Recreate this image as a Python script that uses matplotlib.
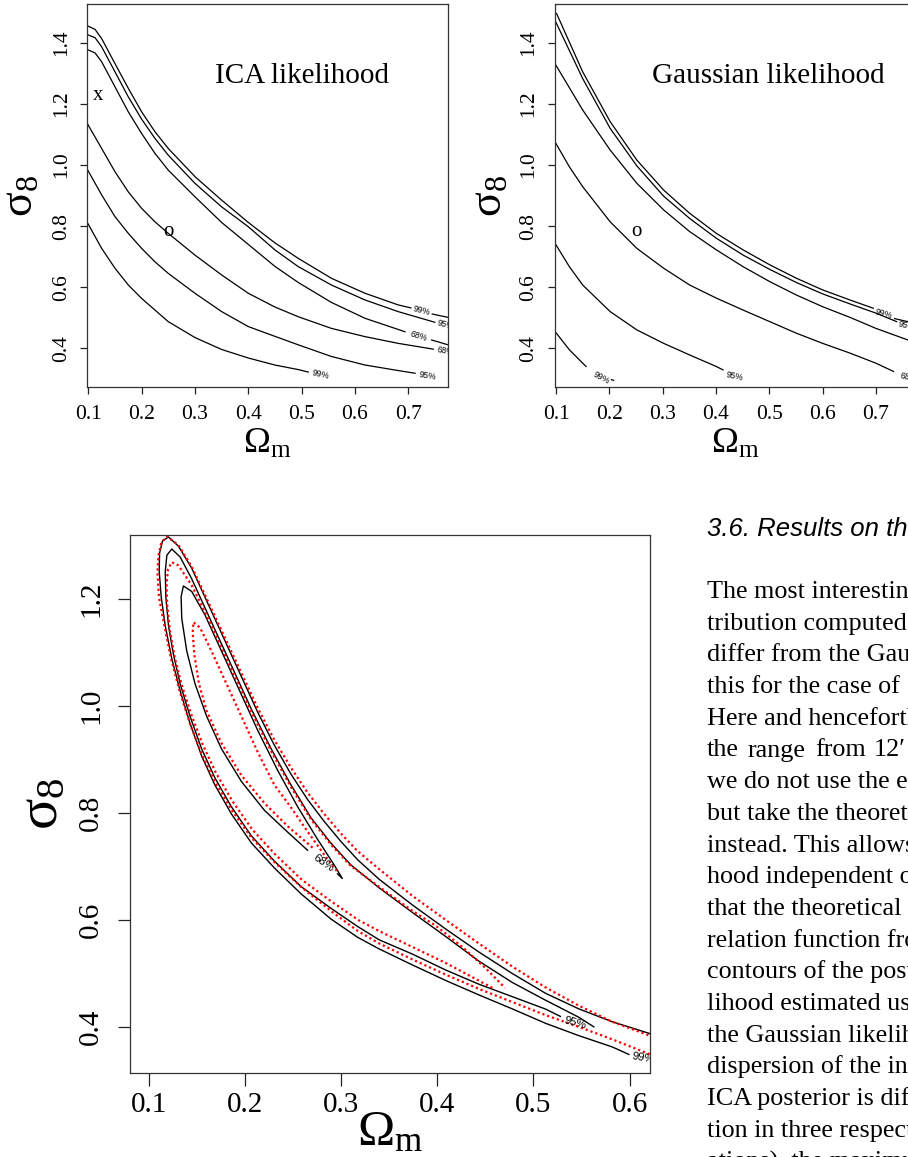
import numpy as np
import matplotlib.pyplot as plt

plt.rcParams['mathtext.fontset'] = 'custom'
plt.rcParams['mathtext.rm'] = 'Liberation Serif'
plt.rcParams['mathtext.it'] = 'Liberation Serif:italic'

SERIF = 'Liberation Serif'
SANS = 'Liberation Sans'
nan = np.nan

# ---------------- top left: ICA likelihood contours ----------------
ica_99_up_x = [0.098, 0.1126, 0.125, 0.150, 0.175, 0.200, 0.225, 0.250, 0.300, 0.350, 0.400, 0.450, 0.494, 0.556, 0.619, 0.681, 0.705, nan, 0.745, 0.775]
ica_99_up_y = [1.456, 1.444, 1.414, 1.332, 1.251, 1.174, 1.109, 1.054, 0.962, 0.885, 0.812, 0.745, 0.694, 0.629, 0.580, 0.542, 0.532, nan, 0.512, 0.501]
ica_95_up_x = [0.098, 0.1126, 0.125, 0.150, 0.175, 0.200, 0.225, 0.250, 0.300, 0.350, 0.400, 0.450, 0.494, 0.556, 0.619, 0.681, 0.750]
ica_95_up_y = [1.427, 1.417, 1.387, 1.305, 1.223, 1.150, 1.087, 1.032, 0.940, 0.863, 0.798, 0.722, 0.667, 0.607, 0.558, 0.520, 0.485]
ica_68_up_x = [0.098, 0.1126, 0.125, 0.150, 0.175, 0.200, 0.225, 0.250, 0.300, 0.350, 0.400, 0.450, 0.494, 0.556, 0.619, 0.694, nan, 0.744, 0.775]
ica_68_up_y = [1.378, 1.367, 1.338, 1.256, 1.174, 1.103, 1.038, 0.983, 0.896, 0.812, 0.740, 0.668, 0.615, 0.550, 0.498, 0.454, nan, 0.427, 0.411]
ica_68_lo_x = [0.098, 0.125, 0.150, 0.175, 0.200, 0.225, 0.250, 0.300, 0.350, 0.400, 0.450, 0.494, 0.556, 0.619, 0.681, 0.747]
ica_68_lo_y = [1.136, 1.054, 0.978, 0.912, 0.858, 0.814, 0.776, 0.705, 0.640, 0.580, 0.535, 0.503, 0.465, 0.438, 0.416, 0.397]
ica_95_lo_x = [0.098, 0.125, 0.150, 0.175, 0.200, 0.225, 0.250, 0.300, 0.350, 0.400, 0.431, 0.494, 0.556, 0.619, 0.681, 0.713]
ica_95_lo_y = [0.986, 0.902, 0.831, 0.776, 0.727, 0.683, 0.645, 0.580, 0.520, 0.471, 0.451, 0.411, 0.373, 0.345, 0.327, 0.318]
ica_99_lo_x = [0.098, 0.125, 0.150, 0.175, 0.200, 0.225, 0.250, 0.300, 0.350, 0.400, 0.450, 0.494, 0.5125]
ica_99_lo_y = [0.812, 0.727, 0.662, 0.607, 0.563, 0.525, 0.487, 0.435, 0.396, 0.368, 0.345, 0.330, 0.322]

ica_lab_text = ['99%', '95%', '68%', '68%', '95%', '99%']
ica_lab_x = [0.725, 0.770, 0.719, 0.770, 0.737, 0.535]
ica_lab_y = [0.522, 0.476, 0.441, 0.390, 0.309, 0.314]
ica_lab_rot = [-14, -15, -17, -10, -9, -13]

# ---------------- top right: Gaussian likelihood contours ----------------
gau_99_up_x = [0.101, 0.150, 0.2015, 0.2516, 0.3018, 0.3506, 0.4008, 0.4509, 0.501, 0.5511, 0.600, 0.6514, 0.695, nan, 0.735, 0.760, 0.775]
gau_99_up_y = [1.496, 1.305, 1.142, 1.016, 0.918, 0.842, 0.776, 0.722, 0.673, 0.629, 0.591, 0.558, 0.531, nan, 0.497, 0.487, 0.482]
gau_95_up_x = [0.098, 0.150, 0.2015, 0.2516, 0.3018, 0.3506, 0.4008, 0.4509, 0.501, 0.5511, 0.600, 0.6514, 0.700, 0.739]
gau_95_up_y = [1.474, 1.283, 1.120, 0.997, 0.898, 0.825, 0.760, 0.705, 0.658, 0.615, 0.578, 0.545, 0.515, 0.487]
gau_68_up_x = [0.098, 0.150, 0.2015, 0.2516, 0.3018, 0.3506, 0.4008, 0.4509, 0.501, 0.5511, 0.600, 0.6514, 0.700, 0.760, 0.775]
gau_68_up_y = [1.332, 1.180, 1.049, 0.940, 0.853, 0.782, 0.722, 0.667, 0.618, 0.574, 0.536, 0.501, 0.465, 0.427, 0.419]
gau_68_lo_x = [0.098, 0.125, 0.150, 0.2015, 0.2516, 0.3018, 0.3506, 0.4008, 0.4509, 0.501, 0.5511, 0.600, 0.6514, 0.700, 0.733]
gau_68_lo_y = [1.076, 0.994, 0.929, 0.814, 0.727, 0.662, 0.607, 0.564, 0.525, 0.487, 0.449, 0.416, 0.384, 0.351, 0.324]
gau_95_lo_x = [0.098, 0.125, 0.150, 0.2015, 0.2516, 0.3018, 0.3506, 0.4008, 0.4133]
gau_95_lo_y = [0.744, 0.667, 0.607, 0.520, 0.460, 0.416, 0.378, 0.340, 0.329]
gau_99_lo_x = [0.098, 0.125, 0.1564, nan, 0.204, 0.208]
gau_99_lo_y = [0.455, 0.395, 0.340, nan, 0.297, 0.295]

gau_lab_text = ['99%', '95%', '68%', '95%', '99%']
gau_lab_x = [0.714, 0.758, 0.762, 0.435, 0.185]
gau_lab_y = [0.514, 0.474, 0.303, 0.309, 0.302]
gau_lab_rot = [-15, -15, -12, -12, -28]

# ---------------- bottom: ICA (black) vs Gaussian (red) posterior ----------------
post_ica_99_x = [0.5993, 0.582, 0.5473, 0.5127, 0.478, 0.4433, 0.4087, 0.374, 0.3393, 0.3166, 0.2890, 0.2579, 0.2303, 0.2062, 0.1855, 0.1683, 0.1545, 0.1424, 0.1321, 0.1234, 0.1166, 0.1124, 0.1103, 0.1107, 0.1138, 0.120,
                 0.1303, 0.1441, 0.1579, 0.1717, 0.1855, 0.1993, 0.2131, 0.2303, 0.2476, 0.2648, 0.2821, 0.2993, 0.3166, 0.3393, 0.374, 0.4087, 0.4433, 0.478, 0.5127, 0.5473, 0.582, 0.621]
post_ica_99_y = [0.349, 0.363, 0.384, 0.407, 0.434, 0.460, 0.487, 0.516, 0.546, 0.568, 0.602, 0.649, 0.697, 0.744, 0.798, 0.852, 0.906, 0.967, 1.028, 1.088, 1.149, 1.203, 1.251, 1.285, 1.308, 1.315,
                 1.298, 1.257, 1.203, 1.149, 1.095, 1.041, 0.987, 0.926, 0.872, 0.825, 0.784, 0.747, 0.713, 0.676, 0.628, 0.583, 0.540, 0.500, 0.463, 0.434, 0.410, 0.388]
post_ica_95_x = [0.528, 0.5127, 0.478, 0.4433, 0.4087, 0.374, 0.3393, 0.3166, 0.289, 0.2579, 0.2303, 0.2062, 0.1855, 0.1683, 0.1545, 0.1424, 0.1321, 0.1252, 0.120, 0.1172, 0.1166, 0.1183, 0.1234,
                 0.1321, 0.1441, 0.1579, 0.1717, 0.189, 0.2062, 0.2269, 0.2476, 0.2683, 0.289, 0.3097, 0.3393, 0.374, 0.4087, 0.4433, 0.478, 0.5127, 0.5473, 0.5629]
post_ica_95_y = [0.420, 0.4336, 0.4568, 0.480, 0.5065, 0.5363, 0.563, 0.5882, 0.622, 0.6626, 0.7099, 0.7572, 0.8113, 0.8654, 0.9195, 0.9803, 1.0411, 1.0952, 1.1493, 1.2034, 1.2507, 1.2811, 1.2926,
                 1.2777, 1.2372, 1.1831, 1.129, 1.0614, 0.9938, 0.9195, 0.8519, 0.791, 0.7437, 0.7031, 0.660, 0.614, 0.569, 0.523, 0.4833, 0.4501, 0.4183, 0.4004]
post_ica_68_x = [0.2648, 0.2441, 0.220, 0.1959, 0.1752, 0.1597, 0.1476, 0.139, 0.1338, 0.1331, 0.1355,
                 0.1441, 0.1579, 0.1752, 0.1924, 0.2131, 0.2338, 0.2545, 0.2752, 0.2924, 0.301, 0.2959]
post_ica_68_y = [0.7302, 0.764, 0.8045, 0.8586, 0.9195, 0.9803, 1.0411, 1.102, 1.1628, 1.2034, 1.2237,
                 1.2135, 1.1696, 1.102, 1.0344, 0.9533, 0.8789, 0.8113, 0.7505, 0.7031, 0.6774, 0.6862]

post_gau_99_x = [0.621, 0.582, 0.5473, 0.5127, 0.478, 0.4433, 0.4087, 0.374, 0.3393, 0.3166, 0.289, 0.2579, 0.2303, 0.2062, 0.1855, 0.1683, 0.1545, 0.142, 0.1315, 0.1226, 0.1158, 0.110, 0.1085, 0.1095, 0.1125, 0.1185,
                 0.1303, 0.1441, 0.1579, 0.1717, 0.1855, 0.1993, 0.2131, 0.2303, 0.2476, 0.2648, 0.2821, 0.2993, 0.3166, 0.3393, 0.374, 0.4087, 0.4433, 0.478, 0.5127, 0.5473, 0.582, 0.621]
post_gau_99_y = [0.3494, 0.3772, 0.4004, 0.4223, 0.4468, 0.4713, 0.4979, 0.5263, 0.5562, 0.580, 0.617, 0.662, 0.708, 0.754, 0.806, 0.858, 0.910, 0.968, 1.028, 1.088, 1.149, 1.203, 1.250, 1.280, 1.305, 1.316,
                 1.300, 1.260, 1.207, 1.154, 1.101, 1.048, 0.995, 0.936, 0.884, 0.838, 0.798, 0.762, 0.729, 0.695, 0.645, 0.600, 0.556, 0.513, 0.474, 0.440, 0.410, 0.384]
post_gau_95_x = [0.4572, 0.4364, 0.4087, 0.374, 0.3393, 0.3176, 0.290, 0.2589, 0.2313, 0.2072, 0.1865, 0.1693, 0.1555, 0.1435, 0.1335, 0.1265, 0.1215, 0.1185, 0.118, 0.1195, 0.1234,
                 0.1303, 0.1441, 0.1579, 0.1717, 0.189, 0.2062, 0.2269, 0.2476, 0.2683, 0.289, 0.3097, 0.3393, 0.374, 0.3983, 0.426, 0.4503, 0.4704]
post_gau_95_y = [0.4733, 0.4932, 0.5197, 0.5495, 0.5794, 0.600, 0.634, 0.675, 0.722, 0.769, 0.822, 0.875, 0.928, 0.985, 1.040, 1.090, 1.140, 1.190, 1.228, 1.255, 1.268,
                 1.262, 1.225, 1.175, 1.122, 1.055, 0.989, 0.915, 0.848, 0.788, 0.741, 0.701, 0.662, 0.617, 0.5893, 0.5495, 0.5098, 0.4733]
post_gau_68_x = [0.270, 0.2441, 0.220, 0.1959, 0.1752, 0.1597, 0.1517, 0.1469, 0.1452, 0.1459,
                 0.1528, 0.1648, 0.1786, 0.1959, 0.2131, 0.2303, 0.2476, 0.2648, 0.2821, 0.2959]
post_gau_68_y = [0.735, 0.775, 0.818, 0.870, 0.930, 0.990, 1.0411, 1.0952, 1.1358, 1.156,
                 1.1459, 1.102, 1.0479, 0.9803, 0.9127, 0.8519, 0.810, 0.765, 0.722, 0.690]

post_lab_text = ['68%', '95%', '99%']
post_lab_x = [0.281, 0.544, 0.614]
post_lab_y = [0.707, 0.407, 0.343]
post_lab_rot = [-35, -15, -10]

top_xticks = [0.1, 0.2, 0.3, 0.4, 0.5, 0.6, 0.7]
top_yticks = [0.4, 0.6, 0.8, 1.0, 1.2, 1.4]
bot_xticks = [0.1, 0.2, 0.3, 0.4, 0.5, 0.6]
bot_yticks = [0.4, 0.6, 0.8, 1.0, 1.2]

body_lines = [
    'The most interesting',
    'tribution computed',
    'differ from the Gaussian',
    'this for the case of',
    'Here and henceforth',
    None,
    'we do not use the estimated',
    'but take the theoretical',
    'instead. This allows',
    'hood independent of',
    'that the theoretical',
    'relation function from',
    'contours of the posterior',
    'lihood estimated using',
    'the Gaussian likelihood',
    'dispersion of the individual',
    'ICA posterior is different',
    'tion in three respects',
    'ations), the maximum',
]
# the sixth line is set with stretched word spacing
wide_words = ['the', 'range', 'from', '12\u2032', 'to']
wide_word_px = [707, 748, 815, 874, 915]


def setup(ax, xlim, ylim, xticks, yticks, fs, tick_len, xpad, ypad):
    ax.set_xlim(xlim)
    ax.set_ylim(ylim)
    ax.set_xticks(xticks)
    ax.set_yticks(yticks)
    ax.set_xticklabels([f'{v:.1f}' for v in xticks], fontfamily=SERIF, fontsize=fs)
    ax.set_yticklabels([f'{v:.1f}' for v in yticks], fontfamily=SERIF, fontsize=fs,
                       rotation=90, va='center')
    ax.tick_params(axis='x', length=tick_len, width=0.9, pad=xpad, color='#222222')
    ax.tick_params(axis='y', length=tick_len, width=0.9, pad=ypad, color='#222222')
    for sp in ax.spines.values():
        sp.set_linewidth(0.9)
        sp.set_color('#333333')


def contour_labels(ax, texts, xs, ys, rots, fs):
    for t, x, y, r in zip(texts, xs, ys, rots):
        ax.text(x, y, t, rotation=r, rotation_mode='anchor', ha='center', va='center',
                fontsize=fs, family=SANS, clip_on=True)


fig = plt.figure(figsize=(9.08, 11.57), dpi=100)
fig.patch.set_facecolor('white')

# top left
ax1 = fig.add_axes([0.0961, 0.6655, 0.3972, 0.3310])
for xs, ys in [(ica_99_up_x, ica_99_up_y), (ica_95_up_x, ica_95_up_y), (ica_68_up_x, ica_68_up_y),
               (ica_68_lo_x, ica_68_lo_y), (ica_95_lo_x, ica_95_lo_y), (ica_99_lo_x, ica_99_lo_y)]:
    ax1.plot(xs, ys, color='black', lw=0.9)
contour_labels(ax1, ica_lab_text, ica_lab_x, ica_lab_y, ica_lab_rot, 6.3)
ax1.text(0.500, 1.267, 'ICA likelihood', ha='center', va='baseline', family=SERIF, fontsize=21)
ax1.text(0.1176, 1.227, 'x', ha='center', va='center', family=SERIF, fontsize=15)
ax1.text(0.250, 0.782, 'o', ha='center', va='center', family=SERIF, fontsize=15)
setup(ax1, (0.098, 0.7745), (0.273, 1.527), top_xticks, top_yticks, 15.5, 4.8, 8, 7)
ax1.text(0.5, -0.172, r'$\mathrm{\Omega_m}$', transform=ax1.transAxes, ha='center', va='baseline', fontsize=26)
ax1.text(-0.150, 0.5, r'$\mathrm{\sigma_8}$', transform=ax1.transAxes, rotation=90, rotation_mode='anchor',
         ha='center', va='baseline', fontsize=33)

# top right (runs past the page edge)
ax2 = fig.add_axes([0.6112, 0.6655, 0.3972, 0.3310])
for xs, ys in [(gau_99_up_x, gau_99_up_y), (gau_95_up_x, gau_95_up_y), (gau_68_up_x, gau_68_up_y),
               (gau_68_lo_x, gau_68_lo_y), (gau_95_lo_x, gau_95_lo_y), (gau_99_lo_x, gau_99_lo_y)]:
    ax2.plot(xs, ys, color='black', lw=0.9)
contour_labels(ax2, gau_lab_text, gau_lab_x, gau_lab_y, gau_lab_rot, 6.3)
ax2.text(0.498, 1.269, 'Gaussian likelihood', ha='center', va='baseline', family=SERIF, fontsize=21)
ax2.text(0.2516, 0.782, 'o', ha='center', va='center', family=SERIF, fontsize=15)
setup(ax2, (0.098, 0.7745), (0.273, 1.527), top_xticks, top_yticks, 15.5, 4.8, 8, 7)
ax2.text(0.5, -0.172, r'$\mathrm{\Omega_m}$', transform=ax2.transAxes, ha='center', va='baseline', fontsize=26)
ax2.text(-0.148, 0.5, r'$\mathrm{\sigma_8}$', transform=ax2.transAxes, rotation=90, rotation_mode='anchor',
         ha='center', va='baseline', fontsize=33)

# bottom: overlay of both posteriors
ax3 = fig.add_axes([0.1436, 0.0726, 0.5719, 0.4649])
for xs, ys in [(post_ica_99_x, post_ica_99_y), (post_ica_95_x, post_ica_95_y), (post_ica_68_x, post_ica_68_y)]:
    ax3.plot(xs, ys, color='black', lw=1.0)
for xs, ys in [(post_gau_99_x, post_gau_99_y), (post_gau_95_x, post_gau_95_y), (post_gau_68_x, post_gau_68_y)]:
    ax3.plot(xs, ys, color='red', lw=1.6, linestyle=(0, (1, 1.3)))
contour_labels(ax3, post_lab_text, post_lab_x, post_lab_y, post_lab_rot, 8.2)
setup(ax3, (0.0803, 0.621), (0.3143, 1.3186), bot_xticks, bot_yticks, 21, 9, 5, 10)
ax3.text(0.5, -0.134, r'$\mathrm{\Omega_m}$', transform=ax3.transAxes, ha='center', va='baseline', fontsize=36)
ax3.text(-0.140, 0.5, r'$\mathrm{\sigma_8}$', transform=ax3.transAxes, rotation=90, rotation_mode='anchor',
         ha='center', va='baseline', fontsize=42)

# running text of the right column
x0 = 707 / 908
fig.text(x0, 1 - 536 / 1157, '3.6. Results on the', family=SANS, style='italic', fontsize=18.5, va='baseline')
for k, line in enumerate(body_lines):
    yb = 1 - (598 + 31.7 * k) / 1157
    if line is None:
        for word, px in zip(wide_words, wide_word_px):
            fig.text(px / 908, yb, word, family=SERIF, fontsize=18.8, va='baseline')
    else:
        fig.text(x0, yb, line, family=SERIF, fontsize=18.8, va='baseline')

fig.savefig('out.png', dpi=100)
